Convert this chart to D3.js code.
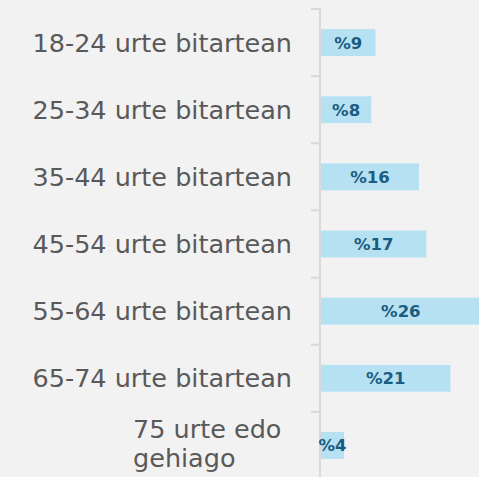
<!DOCTYPE html>
<html>
<head>
<meta charset="utf-8">
<script src="https://cdn.jsdelivr.net/npm/d3@7"></script>
<style>
  body { margin: 0; background: #f2f2f2; }
  svg { display: block; }
</style>
</head>
<body>
<div id="chart"></div>
<script>
// Define SVG area dimensions
var svgWidth = 479;
var svgHeight = 477;

// Chart data
var categories = ["18-24 urte bitartean", "25-34 urte bitartean", "35-44 urte bitartean",
  "45-54 urte bitartean", "55-64 urte bitartean", "65-74 urte bitartean", "75 urte edo gehiago"];
var categoryLines = [["18-24 urte bitartean"], ["25-34 urte bitartean"], ["35-44 urte bitartean"],
  ["45-54 urte bitartean"], ["55-64 urte bitartean"], ["65-74 urte bitartean"], ["75 urte edo", "gehiago"]];
var values = [9.0, 8.3, 16.2, 17.4, 26.4, 21.4, 3.8];
var valueLabels = ["%9", "%8", "%16", "%17", "%26", "%21", "%4"];

// Plot area
var axisX = 320;
var plotTop = 9;
var plotBottom = 479;

var svg = d3.select("#chart")
  .append("svg")
  .attr("width", svgWidth)
  .attr("height", svgHeight);

// Scales
var yScale = d3.scaleBand()
  .domain(categories)
  .range([plotTop, plotBottom])
  .paddingInner(0.6)
  .paddingOuter(0.3);

var xScale = d3.scaleLinear()
  .domain([0, 10])
  .range([axisX + 1, axisX + 1 + 60.5]);

var step = yScale.step();

// Bars
svg.selectAll("rect.bar")
  .data(values)
  .enter()
  .append("rect")
  .attr("class", "bar")
  .attr("x", xScale(0))
  .attr("y", (d, i) => yScale(categories[i]))
  .attr("width", d => xScale(d) - xScale(0))
  .attr("height", yScale.bandwidth())
  .attr("fill", "#b6e1f3");

// Axis line and ticks
svg.append("line")
  .attr("x1", axisX).attr("x2", axisX)
  .attr("y1", plotTop - 1).attr("y2", svgHeight)
  .attr("stroke", "#d9d9d9")
  .attr("stroke-width", 2);

svg.selectAll("line.tick")
  .data(d3.range(categories.length + 1))
  .enter()
  .append("line")
  .attr("class", "tick")
  .attr("x1", axisX - 9).attr("x2", axisX)
  .attr("y1", i => plotTop + i * step)
  .attr("y2", i => plotTop + i * step)
  .attr("stroke", "#d9d9d9")
  .attr("stroke-width", 2);

// Value labels
svg.selectAll("text.value")
  .data(values)
  .enter()
  .append("text")
  .attr("class", "value")
  .attr("x", d => (xScale(0) + xScale(d)) / 2)
  .attr("y", (d, i) => yScale(categories[i]) + yScale.bandwidth() / 2 + 6)
  .attr("text-anchor", "middle")
  .attr("font-family", "'Century Gothic', 'DejaVu Sans', sans-serif")
  .attr("font-weight", "bold")
  .attr("font-size", 16.5)
  .attr("fill", "#1b5d80")
  .text((d, i) => valueLabels[i]);

// Category labels
var catText = svg.selectAll("text.cat")
  .data(categoryLines)
  .enter()
  .append("text")
  .attr("class", "cat")
  .attr("font-family", "'Century Gothic', 'DejaVu Sans', sans-serif")
  .attr("font-size", 25.5)
  .attr("fill", "#595959");

catText.each(function(lines, i) {
  var t = d3.select(this);
  var cy = yScale(categories[i]) + yScale.bandwidth() / 2;
  if (lines.length === 1) {
    t.attr("x", 292).attr("y", cy + 9).attr("text-anchor", "end").text(lines[0]);
  } else {
    t.attr("text-anchor", "start");
    lines.forEach(function(line, j) {
      t.append("tspan")
        .attr("x", 133)
        .attr("y", 438 + j * 29)
        .text(line);
    });
  }
});
</script>
</body>
</html>
